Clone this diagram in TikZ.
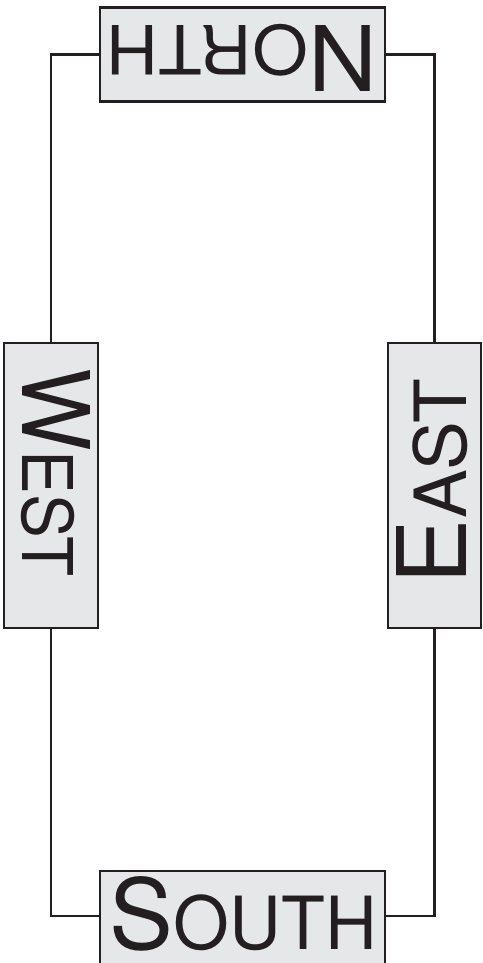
\documentclass[tikz,border=0pt]{standalone}
\usepackage{fontspec}
\setmainfont{TeX Gyre Heros}
\usepackage{graphicx}
\definecolor{boxgray}{HTML}{E6E7E8}
\definecolor{inkc}{HTML}{231F20}
\newcommand\caplab[2]{{\fontsize{100pt}{100pt}\selectfont #1}{\fontsize{75pt}{75pt}\selectfont #2}}
\tikzset{
  box/.style={draw=inkc, line width=2.1pt, fill=boxgray, inner sep=0pt},
  lab/.style={inner sep=0pt, text=inkc},
  conn/.style={draw=inkc, line width=2.1pt}
}
\begin{document}
\begin{tikzpicture}[x=1pt,y=-1pt]
\useasboundingbox (0,0) rectangle (482,963);
\node[box, minimum width=285pt, minimum height=94pt] (north) at (242.5,54.5) {};
\node[box, minimum width=285pt, minimum height=100pt] (south) at (242.5,921) {};
\node[box, minimum width=94pt, minimum height=285pt] (west) at (51,485.5) {};
\node[box, minimum width=93pt, minimum height=285pt] (east) at (434.5,485.5) {};
\node[lab, rotate=180] (northtext) at (242,58) {\resizebox{270pt}{66pt}{\caplab{N}{ORTH}}};
\node[lab] (southtext) at (243.5,913.5) {\resizebox{267pt}{73pt}{\caplab{S}{OUTH}}};
\node[lab, rotate=-90] (westtext) at (56,472) {\resizebox{208pt}{68pt}{\caplab{W}{EST}}};
\node[lab, rotate=90] (easttext) at (432,481.5) {\resizebox{205pt}{70pt}{\caplab{E}{AST}}};
\draw[conn] (north.west) -| (west.north);
\draw[conn] (north.east) -| (east.north);
\draw[conn] (west.south) |- ([yshift=5pt]south.west);
\draw[conn] (east.south) |- ([yshift=5pt]south.east);
\end{tikzpicture}
\end{document}
